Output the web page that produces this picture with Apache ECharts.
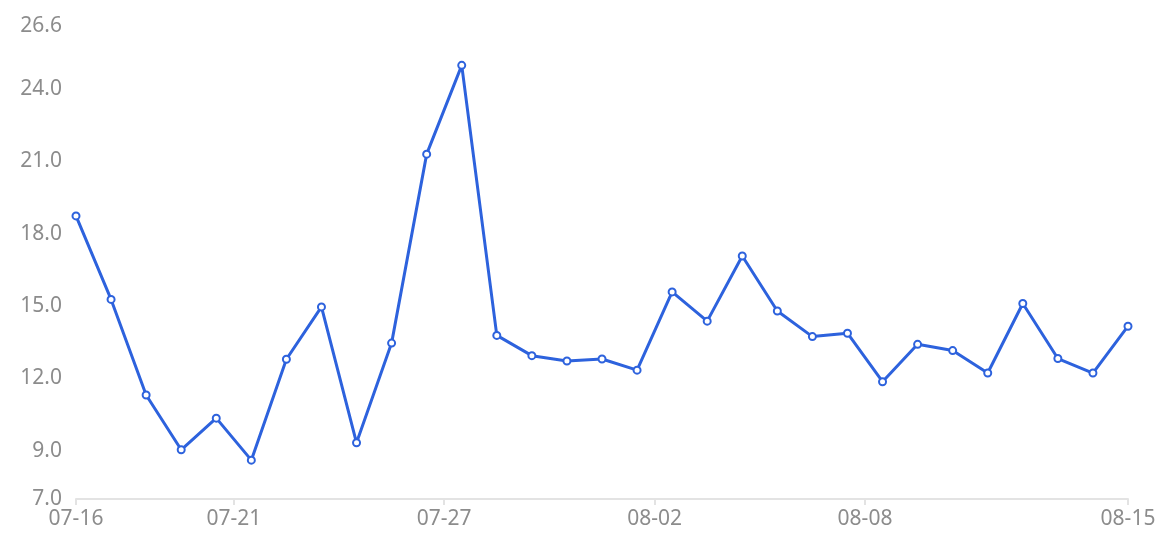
<!DOCTYPE html>
<html>
<head>
<meta charset="utf-8">
<script src="https://cdn.jsdelivr.net/npm/echarts@6/dist/echarts.min.js"></script>
<style>
html,body{margin:0;padding:0;background:#fff;}
#main{width:1174px;height:551px;}
</style>
</head>
<body>
<div id="main"></div>
<script>
var dates = ['07-16','07-17','07-18','07-19','07-20','07-21','07-22','07-23','07-24','07-25','07-26','07-27','07-28','07-29','07-30','07-31','08-01','08-02','08-03','08-04','08-05','08-06','08-07','08-08','08-09','08-10','08-11','08-12','08-13','08-14','08-15'];
var values = [18.73,15.27,11.31,9.04,10.35,8.61,12.79,14.96,9.33,13.46,21.29,24.97,13.78,12.94,12.72,12.80,12.34,15.58,14.37,17.07,14.79,13.73,13.87,11.86,13.41,13.15,12.22,15.10,12.82,12.22,14.16];
var xTickPositions = [0, 4.5, 10.5, 16.5, 22.5, 30];
var yTicks = [7, 9, 12, 15, 18, 21, 24, 26.6];

var chart = echarts.init(document.getElementById('main'), null, {renderer:'canvas'});
var seriesData = values.map(function(v, i){ return [i, v]; });
var labelColor = '#8c8c8c';
var fontFamily = '"Noto Sans", sans-serif';
chart.setOption({
  animation: false,
  grid: {left: 76, right: 46, top: 26, bottom: 52},
  xAxis: {
    type: 'value',
    min: 0,
    max: dates.length - 1,
    axisLine: {show: true, lineStyle: {color: '#e3e3e3', width: 2}},
    axisTick: {show: true, customValues: xTickPositions, length: 6, lineStyle: {color: '#e3e3e3', width: 2}},
    splitLine: {show: false},
    axisLabel: {
      customValues: xTickPositions,
      color: labelColor, fontSize: 21, fontFamily: fontFamily, margin: 10,
      formatter: function(v){ return dates[Math.ceil(v)]; }
    }
  },
  yAxis: {
    type: 'value',
    min: 7,
    max: 26.6,
    axisLine: {show: false},
    axisTick: {show: false},
    splitLine: {show: false},
    axisLabel: {
      customValues: yTicks,
      color: labelColor, fontSize: 21, fontFamily: fontFamily, margin: 14,
      formatter: function(v){ return v.toFixed(1); }
    }
  },
  series: [{
    type: 'line',
    data: seriesData,
    symbol: 'emptyCircle',
    symbolSize: 7,
    showAllSymbol: true,
    lineStyle: {color: '#2d62dd', width: 3},
    itemStyle: {color: '#2d62dd', borderWidth: 1.5}
  }]
});
</script>
</body>
</html>
